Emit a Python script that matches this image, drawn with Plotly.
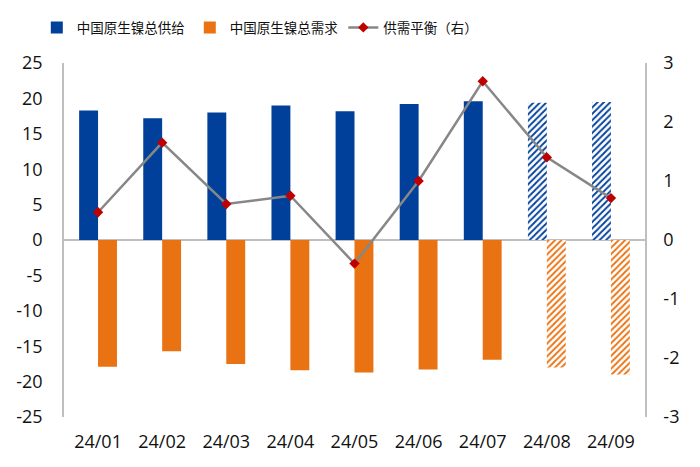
import plotly.graph_objects as go

months = ["24/01", "24/02", "24/03", "24/04", "24/05", "24/06", "24/07", "24/08", "24/09"]
supply = [18.3, 17.2, 18.0, 19.0, 18.2, 19.2, 19.6, 19.4, 19.5]
demand = [-17.9, -15.7, -17.5, -18.4, -18.7, -18.3, -16.9, -18.0, -19.0]
balance = [0.47, 1.65, 0.61, 0.75, -0.40, 1.00, 2.69, 1.40, 0.71]
forecast = [False] * 7 + [True] * 2

left_ticks = [-25, -20, -15, -10, -5, 0, 5, 10, 15, 20, 25]
right_ticks = [-3, -2, -1, 0, 1, 2, 3]

blue = "#01409A"
orange = "#E97212"
num_font = "Open Sans, Noto Sans, sans-serif"
cjk_font = "Noto Sans CJK SC, sans-serif"

def pattern(color):
    return dict(
        shape=["/" if f else "" for f in forecast],
        fgcolor=color,
        bgcolor=["white" if f else color for f in forecast],
        size=4.5,
        solidity=0.4,
        fillmode="replace",
    )

fig = go.Figure()
fig.add_trace(go.Bar(
    x=months, y=supply, name="中国原生镍总供给",
    marker=dict(color=blue, line=dict(width=0), pattern=pattern(blue)),
))
fig.add_trace(go.Bar(
    x=months, y=demand, name="中国原生镍总需求",
    marker=dict(color=orange, line=dict(width=0), pattern=pattern(orange)),
))
fig.add_trace(go.Scatter(
    x=months, y=balance, name="供需平衡（右）", yaxis="y2",
    mode="lines+markers",
    line=dict(color="#878787", width=2.5),
    marker=dict(symbol="diamond", color="#C00000", size=8),
))

fig.update_layout(
    width=700, height=467,
    margin=dict(l=64, r=55, t=63, b=50, autoexpand=False),
    paper_bgcolor="white", plot_bgcolor="white",
    barmode="group", bargap=0.41, bargroupgap=0,
    font=dict(family=num_font, size=18, color="#111111"),
    showlegend=True,
    legend=dict(orientation="h", x=0.337, xanchor="center", y=1.1, yanchor="middle",
                font=dict(size=13.5, family=cjk_font, color="#111111"), traceorder="normal"),
    xaxis=dict(showgrid=False, showline=False, ticks="", tickfont=dict(size=18),
               ticklabelstandoff=12),
    yaxis=dict(range=[-25, 25], tickvals=left_ticks, ticktext=[str(v) for v in left_ticks],
               showgrid=False, zeroline=True,
               zerolinecolor="#BFBFBF", zerolinewidth=1.5,
               showline=True, linecolor="#BFBFBF", linewidth=1.5, ticks="",
               tickfont=dict(size=18), ticklabelstandoff=16),
    yaxis2=dict(range=[-3, 3], tickvals=right_ticks, ticktext=[str(v) for v in right_ticks],
                overlaying="y", side="right",
                showgrid=False, zeroline=False,
                showline=True, linecolor="#BFBFBF", linewidth=1.5, ticks="",
                tickfont=dict(size=18), ticklabelstandoff=13),
)

fig.write_html("out.html", config={"displayModeBar": False},
               post_script="document.body.style.margin='0';document.body.style.overflow='hidden';")
